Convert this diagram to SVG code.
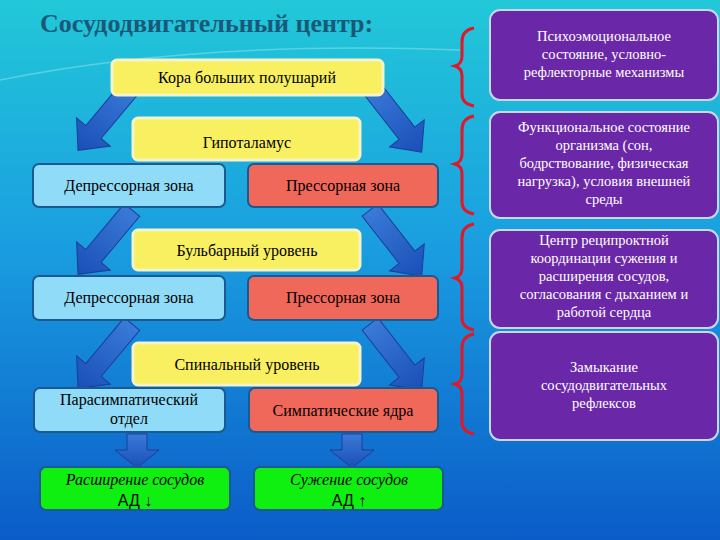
<svg xmlns="http://www.w3.org/2000/svg" width="720" height="540" viewBox="0 0 720 540">
<defs>
<linearGradient id="bg" x1="0" y1="0" x2="0" y2="1"><stop offset="0" stop-color="#22c8d8"/><stop offset="0.45" stop-color="#1a9ee0"/><stop offset="1" stop-color="#0b5cc8"/></linearGradient>
<linearGradient id="ar" x1="0" y1="0" x2="0" y2="1"><stop offset="0" stop-color="#3a7ad8"/><stop offset="1" stop-color="#1a4fb8"/></linearGradient>
<path id="diag" d="M-10,0 L10,0 L10,60 L22,60 L0,84 L-22,60 L-10,60 Z"/>
<path id="down" d="M-10,0 L10,0 L10,16 L22,16 L0,34 L-22,16 L-10,16 Z"/>
</defs>
<style>
.y{fill:#f8f060;stroke:#f4f4c8;stroke-width:3}
.lb{fill:#90dcf8;stroke:#1a5a90;stroke-width:2}
.rd{fill:#f0685a;stroke:#1a5a90;stroke-width:2}
.gr{fill:#10f010;stroke:#1a5a90;stroke-width:2}
.pp{fill:#6a28a8;stroke:#c8d8f0;stroke-width:2}
.br{fill:none;stroke:#e01828;stroke-width:3}
.a{fill:url(#ar);stroke:#1a3f98;stroke-width:1}
</style>
<rect width="720" height="540" fill="url(#bg)"/>
<path d="M0,80 Q200,40 460,50" fill="none" stroke="#7ee0e8" stroke-width="1.5" opacity="0.6"/>
<text x="40" y="32" font-family="Liberation Serif,DejaVu Serif,serif" font-size="26" font-weight="bold" fill="#1a5878">Сосудодвигательный центр:</text>
<g id="connectors">
<use href="#diag" class="a" transform="translate(132,86) rotate(40)"/>
<use href="#diag" class="a" transform="translate(370,86) rotate(-38)"/>
<use href="#diag" class="a" transform="translate(132,210) rotate(40)"/>
<use href="#diag" class="a" transform="translate(370,210) rotate(-38)"/>
<use href="#diag" class="a" transform="translate(132,324) rotate(40)"/>
<use href="#diag" class="a" transform="translate(370,324) rotate(-38)"/>
<use href="#down" class="a" transform="translate(137,434)"/>
<use href="#down" class="a" transform="translate(352,434)"/>
<path class="br" d="M474,28 Q462,30 462,42 L462,56 Q462,64 455,66 Q462,68 462,76 L462,94 Q462,104 474,106"/>
<path class="br" d="M474,116 Q462,118 462,130 L462,154 Q462,162 455,164 Q462,166 462,174 L462,202 Q462,212 474,214"/>
<path class="br" d="M474,224 Q462,226 462,238 L462,268 Q462,276 455,278 Q462,280 462,288 L462,318 Q462,328 474,330"/>
<path class="br" d="M474,334 Q462,336 462,348 L462,374 Q462,382 455,384 Q462,386 462,394 L462,422 Q462,432 474,434"/>
</g>
<g font-family="Liberation Serif,DejaVu Serif,serif" font-size="16" fill="#000" text-anchor="middle">
<g id="cortex"><rect class="y" x="112" y="60" width="271" height="35" rx="5"/><text x="247" y="83">Кора больших полушарий</text></g>
<g id="hypo"><rect class="y" x="133" y="118" width="227" height="42" rx="5"/><text x="247" y="148">Гипоталамус</text></g>
<g id="dep1"><rect class="lb" x="33" y="164" width="192" height="43" rx="6"/><text x="129" y="191">Депрессорная зона</text></g>
<g id="pre1"><rect class="rd" x="248" y="164" width="190" height="43" rx="6"/><text x="343" y="191">Прессорная зона</text></g>
<g id="bulb"><rect class="y" x="133" y="230" width="227" height="40" rx="5"/><text x="247" y="256">Бульбарный уровень</text></g>
<g id="dep2"><rect class="lb" x="33" y="276" width="192" height="44" rx="6"/><text x="129" y="303">Депрессорная зона</text></g>
<g id="pre2"><rect class="rd" x="248" y="276" width="190" height="44" rx="6"/><text x="343" y="303">Прессорная зона</text></g>
<g id="spin"><rect class="y" x="133" y="343" width="227" height="42" rx="5"/><text x="247" y="370">Спинальный уровень</text></g>
<g id="para"><rect class="lb" x="34" y="388" width="191" height="44" rx="6"/><text x="129" y="405">Парасимпатический</text><text x="129" y="424">отдел</text></g>
<g id="symp"><rect class="rd" x="249" y="388" width="189" height="44" rx="6"/><text x="343" y="416">Симпатические ядра</text></g>
<g id="dil"><rect class="gr" x="40" y="467" width="190" height="43" rx="6"/><text x="135" y="485" font-style="italic">Расширение сосудов</text><text x="135" y="506" font-family="Liberation Sans,sans-serif" font-size="16">АД <tspan font-weight="bold">↓</tspan></text></g>
<g id="con"><rect class="gr" x="254" y="467" width="189" height="43" rx="6"/><text x="349" y="485" font-style="italic">Сужение сосудов</text><text x="349" y="506" font-family="Liberation Sans,sans-serif" font-size="16">АД <tspan font-weight="bold">↑</tspan></text></g>
</g>
<g font-family="Liberation Serif,DejaVu Serif,serif" font-size="14.5" fill="#fff" text-anchor="middle">
<g id="r1"><rect class="pp" x="490" y="10" width="228" height="90" rx="10"/><text x="604" y="41">Психоэмоциональное</text><text x="604" y="59">состояние, условно-</text><text x="604" y="77">рефлекторные механизмы</text></g>
<g id="r2"><rect class="pp" x="490" y="112" width="228" height="106" rx="10"/><text x="604" y="132">Функциональное состояние</text><text x="604" y="150">организма (сон,</text><text x="604" y="168">бодрствование, физическая</text><text x="604" y="186">нагрузка), условия внешней</text><text x="604" y="204">среды</text></g>
<g id="r3"><rect class="pp" x="490" y="230" width="228" height="98" rx="10"/><text x="604" y="245">Центр реципроктной</text><text x="604" y="263">координации сужения и</text><text x="604" y="281">расширения сосудов,</text><text x="604" y="299">согласования с дыханием и</text><text x="604" y="317">работой сердца</text></g>
<g id="r4"><rect class="pp" x="490" y="332" width="228" height="108" rx="10"/><text x="604" y="372">Замыкание</text><text x="604" y="390">сосудодвигательных</text><text x="604" y="408">рефлексов</text></g>
</g>
</svg>
